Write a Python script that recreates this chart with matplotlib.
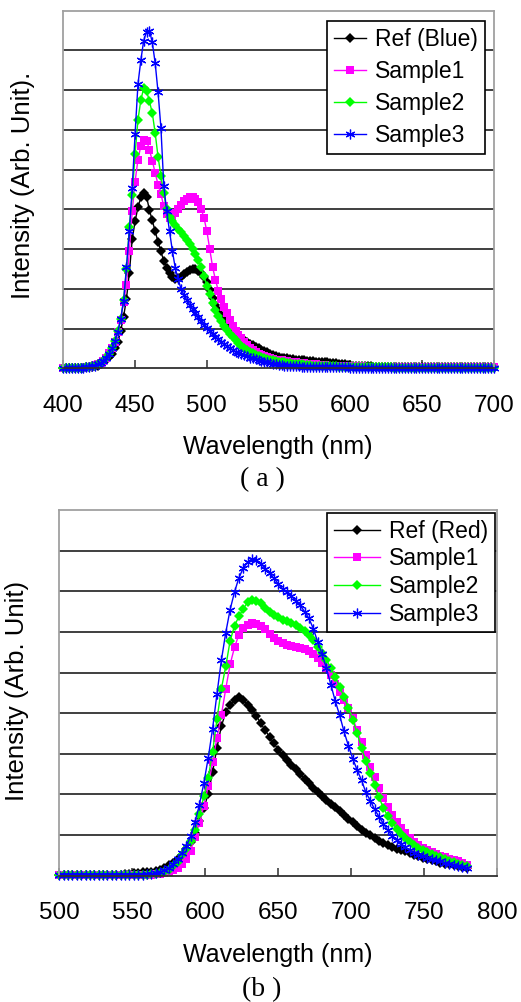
import numpy as np
import matplotlib
matplotlib.use("Agg")
import matplotlib.pyplot as plt

plt.rcParams["font.family"] = ["Liberation Sans", "DejaVu Sans"]

# ── (a) blue-emitting spectra, 400-700 nm, 2 nm step ─────────────
wl_a = np.arange(400, 701, 2)
ref_a = [0.02, 0.02, 0.02, 0.02, 0.02, 0.02, 0.02, 0.02, 0.03, 0.03,
         0.04, 0.05, 0.07, 0.10, 0.15, 0.21, 0.28, 0.36, 0.50, 0.65,
         0.95, 1.30, 1.75, 2.40, 3.25, 3.70, 4.05, 4.30, 4.42, 4.32,
         3.98, 3.72, 3.45, 3.18, 2.94, 2.70, 2.52, 2.40, 2.31, 2.26,
         2.27, 2.31, 2.37, 2.43, 2.48, 2.51, 2.50, 2.46, 2.40, 2.30,
         2.18, 1.97, 1.76, 1.60, 1.46, 1.34, 1.23, 1.13, 1.04, 0.96,
         0.89, 0.83, 0.77, 0.72, 0.67, 0.62, 0.58, 0.54, 0.50, 0.46,
         0.43, 0.40, 0.37, 0.34, 0.31, 0.29, 0.27, 0.26, 0.25, 0.24,
         0.23, 0.22, 0.22, 0.21, 0.20, 0.19, 0.18, 0.18, 0.17, 0.17,
         0.16, 0.15, 0.15, 0.14, 0.14, 0.13, 0.12, 0.11, 0.10, 0.09,
         0.08, 0.07, 0.07, 0.06, 0.06, 0.05, 0.05, 0.05, 0.04, 0.04,
         0.04, 0.04, 0.04, 0.04, 0.04, 0.04, 0.04, 0.04, 0.04, 0.04,
         0.04, 0.04, 0.03, 0.03, 0.03, 0.03, 0.03, 0.03, 0.03, 0.03,
         0.03, 0.03, 0.03, 0.03, 0.03, 0.03, 0.03, 0.03, 0.03, 0.03,
         0.03, 0.03, 0.03, 0.03, 0.03, 0.03, 0.03, 0.03, 0.03, 0.03,
         0.03]
s1_a = [0.02, 0.02, 0.02, 0.02, 0.02, 0.02, 0.02, 0.02, 0.03, 0.03,
        0.06, 0.08, 0.11, 0.14, 0.19, 0.26, 0.38, 0.50, 0.67, 0.92,
        1.22, 1.68, 2.10, 2.94, 3.95, 4.70, 5.25, 5.60, 5.74, 5.73,
        5.50, 5.22, 4.92, 4.62, 4.38, 4.08, 3.88, 3.79, 3.82, 3.92,
        4.02, 4.12, 4.20, 4.27, 4.31, 4.30, 4.26, 4.18, 4.02, 3.78,
        3.45, 3.00, 2.55, 2.22, 1.95, 1.74, 1.55, 1.38, 1.22, 1.07,
        0.95, 0.84, 0.75, 0.66, 0.58, 0.52, 0.46, 0.41, 0.37, 0.33,
        0.30, 0.28, 0.26, 0.24, 0.22, 0.21, 0.20, 0.19, 0.18, 0.17,
        0.16, 0.15, 0.14, 0.13, 0.13, 0.12, 0.11, 0.10, 0.10, 0.09,
        0.08, 0.08, 0.07, 0.07, 0.07, 0.06, 0.06, 0.06, 0.05, 0.05,
        0.05, 0.05, 0.05, 0.05, 0.05, 0.04, 0.04, 0.04, 0.04, 0.04,
        0.04, 0.04, 0.04, 0.04, 0.04, 0.04, 0.04, 0.04, 0.04, 0.04,
        0.03, 0.03, 0.03, 0.03, 0.03, 0.03, 0.03, 0.03, 0.03, 0.03,
        0.03, 0.03, 0.03, 0.03, 0.03, 0.03, 0.03, 0.03, 0.03, 0.03,
        0.03, 0.03, 0.03, 0.03, 0.03, 0.03, 0.03, 0.03, 0.03, 0.03,
        0.03]
s2_a = [0.02, 0.02, 0.02, 0.02, 0.02, 0.02, 0.02, 0.02, 0.03, 0.03,
        0.05, 0.07, 0.10, 0.14, 0.19, 0.26, 0.37, 0.50, 0.68, 0.93,
        1.25, 1.72, 2.50, 3.55, 4.35, 5.40, 6.25, 6.75, 7.05, 6.98,
        6.72, 6.42, 5.92, 5.32, 4.85, 4.40, 4.00, 3.82, 3.70, 3.60,
        3.51, 3.42, 3.32, 3.22, 3.12, 3.00, 2.87, 2.72, 2.55, 2.32,
        2.08, 1.87, 1.64, 1.46, 1.31, 1.18, 1.06, 0.96, 0.87, 0.78,
        0.70, 0.63, 0.57, 0.51, 0.46, 0.42, 0.38, 0.34, 0.31, 0.28,
        0.25, 0.23, 0.21, 0.20, 0.18, 0.17, 0.16, 0.15, 0.14, 0.13,
        0.12, 0.11, 0.11, 0.10, 0.09, 0.08, 0.08, 0.07, 0.07, 0.06,
        0.06, 0.06, 0.05, 0.05, 0.05, 0.05, 0.04, 0.04, 0.04, 0.04,
        0.03, 0.03, 0.03, 0.03, 0.03, 0.03, 0.03, 0.03, 0.03, 0.03,
        0.03, 0.03, 0.03, 0.03, 0.03, 0.02, 0.02, 0.02, 0.02, 0.02,
        0.02, 0.02, 0.02, 0.02, 0.02, 0.02, 0.02, 0.02, 0.02, 0.02,
        0.02, 0.02, 0.02, 0.02, 0.02, 0.02, 0.02, 0.02, 0.02, 0.02,
        0.02, 0.02, 0.02, 0.02, 0.02, 0.02, 0.02, 0.02, 0.02, 0.02,
        0.02]
s3_a = [0.02, 0.02, 0.02, 0.02, 0.02, 0.02, 0.02, 0.02, 0.03, 0.03,
        0.05, 0.07, 0.10, 0.14, 0.19, 0.26, 0.37, 0.50, 0.68, 0.92,
        1.25, 1.70, 2.55, 3.45, 4.55, 5.90, 7.15, 7.75, 8.25, 8.47,
        8.50, 8.20, 7.68, 6.95, 6.05, 4.60, 3.95, 3.45, 2.95, 2.52,
        2.24, 2.00, 1.85, 1.72, 1.60, 1.49, 1.38, 1.28, 1.19, 1.10,
        1.02, 0.94, 0.86, 0.79, 0.73, 0.67, 0.61, 0.55, 0.50, 0.46,
        0.42, 0.39, 0.36, 0.33, 0.30, 0.27, 0.25, 0.23, 0.21, 0.19,
        0.17, 0.15, 0.13, 0.12, 0.10, 0.09, 0.08, 0.07, 0.06, 0.06,
        0.05, 0.05, 0.05, 0.04, 0.04, 0.04, 0.04, 0.03, 0.03, 0.03,
        0.03, 0.03, 0.03, 0.03, 0.03, 0.03, 0.03, 0.03, 0.03, 0.03,
        0.02, 0.02, 0.02, 0.02, 0.02, 0.02, 0.02, 0.02, 0.02, 0.02,
        0.02, 0.02, 0.02, 0.02, 0.02, 0.02, 0.02, 0.02, 0.02, 0.02,
        0.02, 0.02, 0.02, 0.02, 0.02, 0.02, 0.02, 0.02, 0.02, 0.02,
        0.02, 0.02, 0.02, 0.02, 0.02, 0.02, 0.02, 0.02, 0.02, 0.02,
        0.02, 0.02, 0.02, 0.02, 0.02, 0.02, 0.02, 0.02, 0.02, 0.02,
        0.02]

# ── (b) red-emitting spectra, 500-779 nm, 3 nm step ──────────────
wl_b = np.arange(500, 780, 3)
ref_b = [0.02, 0.02, 0.02, 0.02, 0.02, 0.02, 0.02, 0.02, 0.02, 0.02,
         0.02, 0.02, 0.02, 0.02, 0.02, 0.03, 0.04, 0.06, 0.07, 0.08,
         0.09, 0.10, 0.12, 0.15, 0.20, 0.26, 0.32, 0.40, 0.50, 0.65,
         0.83, 1.05, 1.35, 1.66, 2.02, 2.55, 3.15, 3.68, 4.02, 4.20,
         4.33, 4.40, 4.32, 4.20, 4.08, 3.93, 3.75, 3.58, 3.42, 3.26,
         3.10, 2.96, 2.84, 2.73, 2.62, 2.50, 2.38, 2.27, 2.16, 2.05,
         1.96, 1.86, 1.77, 1.68, 1.58, 1.49, 1.40, 1.31, 1.22, 1.13,
         1.06, 0.99, 0.92, 0.86, 0.80, 0.75, 0.70, 0.66, 0.63, 0.60,
         0.56, 0.52, 0.48, 0.44, 0.41, 0.38, 0.35, 0.32, 0.30, 0.28,
         0.26, 0.24, 0.22, 0.20]
s1_b = [0.02, 0.02, 0.02, 0.02, 0.02, 0.02, 0.02, 0.02, 0.02, 0.02,
        0.02, 0.02, 0.02, 0.02, 0.02, 0.02, 0.02, 0.02, 0.02, 0.02,
        0.02, 0.02, 0.03, 0.04, 0.06, 0.09, 0.14, 0.20, 0.30, 0.42,
        0.62, 0.95, 1.30, 1.72, 2.20, 2.80, 3.40, 3.95, 4.60, 5.20,
        5.62, 5.93, 6.10, 6.18, 6.22, 6.20, 6.14, 6.06, 5.95, 5.86,
        5.78, 5.72, 5.68, 5.65, 5.63, 5.61, 5.58, 5.53, 5.46, 5.36,
        5.24, 5.10, 4.93, 4.73, 4.52, 4.33, 4.12, 3.88, 3.58, 3.28,
        2.98, 2.68, 2.42, 2.15, 1.90, 1.70, 1.50, 1.32, 1.17, 1.04,
        0.93, 0.84, 0.76, 0.69, 0.63, 0.58, 0.53, 0.49, 0.45, 0.42,
        0.39, 0.35, 0.31, 0.27]
s2_b = [0.02, 0.02, 0.02, 0.02, 0.02, 0.02, 0.02, 0.02, 0.02, 0.02,
        0.02, 0.02, 0.02, 0.02, 0.02, 0.02, 0.02, 0.02, 0.02, 0.02,
        0.02, 0.03, 0.04, 0.06, 0.10, 0.15, 0.24, 0.34, 0.50, 0.66,
        0.85, 1.12, 1.52, 1.95, 2.40, 3.05, 3.85, 4.60, 5.15, 5.78,
        6.15, 6.38, 6.57, 6.73, 6.79, 6.77, 6.70, 6.58, 6.48, 6.42,
        6.36, 6.30, 6.26, 6.22, 6.18, 6.10, 6.03, 5.93, 5.80, 5.63,
        5.48, 5.32, 5.10, 4.90, 4.65, 4.40, 4.13, 3.83, 3.50, 3.15,
        2.82, 2.53, 2.22, 1.93, 1.66, 1.47, 1.30, 1.15, 1.02, 0.93,
        0.84, 0.76, 0.69, 0.63, 0.58, 0.53, 0.49, 0.45, 0.41, 0.37,
        0.33, 0.30, 0.27, 0.24]
s3_b = [0.02, 0.02, 0.02, 0.02, 0.02, 0.02, 0.02, 0.02, 0.02, 0.02,
        0.02, 0.02, 0.02, 0.02, 0.02, 0.02, 0.02, 0.02, 0.02, 0.02,
        0.03, 0.04, 0.06, 0.09, 0.14, 0.20, 0.30, 0.42, 0.57, 0.72,
        0.98, 1.33, 1.75, 2.28, 2.90, 3.62, 4.48, 5.30, 5.98, 6.55,
        6.98, 7.33, 7.57, 7.72, 7.80, 7.77, 7.68, 7.56, 7.44, 7.32,
        7.18, 7.05, 6.97, 6.88, 6.77, 6.65, 6.50, 6.33, 6.08, 5.75,
        5.45, 5.10, 4.70, 4.30, 3.95, 3.55, 3.20, 2.88, 2.60, 2.35,
        2.05, 1.85, 1.63, 1.45, 1.28, 1.12, 0.98, 0.87, 0.78, 0.70,
        0.63, 0.57, 0.52, 0.48, 0.44, 0.41, 0.38, 0.35, 0.32, 0.29,
        0.26, 0.24, 0.22, 0.20]

labels_a = ["Ref (Blue)", "Sample1", "Sample2", "Sample3"]
labels_b = ["Ref (Red)", "Sample1", "Sample2", "Sample3"]
xticks_a = [400, 450, 500, 550, 600, 650, 700]
xticks_b = [500, 550, 600, 650, 700, 750, 800]

W, H = 521, 1002
fig = plt.figure(figsize=(W / 100, H / 100), dpi=100)


def px_axes(left, top, right, bottom):
    return fig.add_axes([left / W, 1 - bottom / H, (right - left) / W, (bottom - top) / H])


STYLES = [
    dict(color="black", marker="D", ms=5.0, mew=0),
    dict(color="#ff00ff", marker="s", ms=5.8, mew=0),
    dict(color="#00ff00", marker="D", ms=5.4, mew=0),
    dict(color="#0000ff", marker=(6, 2, 0), ms=7.0, mew=0.9),
]


def draw(ax, wl, series, labels, xlim, xticks):
    for ys, lab, st in zip(series, labels, STYLES):
        ax.plot(wl, ys, lw=1.0, label=lab, clip_on=False, **st)
    ax.set_xlim(*xlim)
    ax.set_ylim(0, 9)
    ax.set_yticks(range(1, 9))
    ax.yaxis.grid(True, color="#303030", lw=1.3)
    ax.set_axisbelow(True)
    ax.tick_params(axis="y", length=0, labelleft=False)
    ax.set_xticks(xticks)
    ax.tick_params(axis="x", direction="in", length=6, width=1.2,
                   color="#404040", labelsize=17.5, pad=19)
    for side in ["left", "top", "right"]:
        ax.spines[side].set_color("#a0a0a0")
        ax.spines[side].set_linewidth(1.3)
    ax.spines["bottom"].set_color("#303030")
    ax.spines["bottom"].set_linewidth(1.3)


ax_a = px_axes(63.3, 10.7, 494, 368.3)
draw(ax_a, wl_a, [ref_a, s1_a, s2_a, s3_a], labels_a, (400, 700), xticks_a)
leg_a = ax_a.legend(loc="upper right", bbox_to_anchor=(0.979, 0.972), fontsize=16.5,
                    fancybox=False, edgecolor="black", framealpha=1, borderpad=0.3,
                    labelspacing=0.4, handlelength=1.4, handletextpad=0.4,
                    borderaxespad=0)
leg_a.get_frame().set_linewidth(1.2)

ax_b = px_axes(59.3, 510, 497.3, 875.7)
draw(ax_b, wl_b, [ref_b, s1_b, s2_b, s3_b], labels_b, (500, 800), xticks_b)
leg_b = ax_b.legend(loc="upper right", bbox_to_anchor=(0.995, 0.992), fontsize=16.5,
                    fancybox=False, edgecolor="black", framealpha=1, borderpad=0.3,
                    labelspacing=0.2, handlelength=2.0, handletextpad=0.4,
                    borderaxespad=0)
leg_b.get_frame().set_linewidth(1.2)

# axis titles and captions
fig.text(23 / W, 1 - 185 / H, "Intensity (Arb. Unit).", rotation=90,
         ha="center", va="center", fontsize=18.5)
fig.text(278 / W, 1 - 447 / H, "Wavelength (nm)", ha="center", va="center", fontsize=18)
fig.text(262 / W, 1 - 480 / H, "( a )", ha="center", va="center", fontsize=20,
         family="Liberation Serif")

fig.text(17 / W, 1 - 691 / H, "Intensity (Arb. Unit)", rotation=90,
         ha="center", va="center", fontsize=18.5)
fig.text(278 / W, 1 - 955 / H, "Wavelength (nm)", ha="center", va="center", fontsize=18)
fig.text(262 / W, 1 - 990 / H, "(b )", ha="center", va="center", fontsize=20,
         family="Liberation Serif")

fig.savefig("out.png", dpi=100)
